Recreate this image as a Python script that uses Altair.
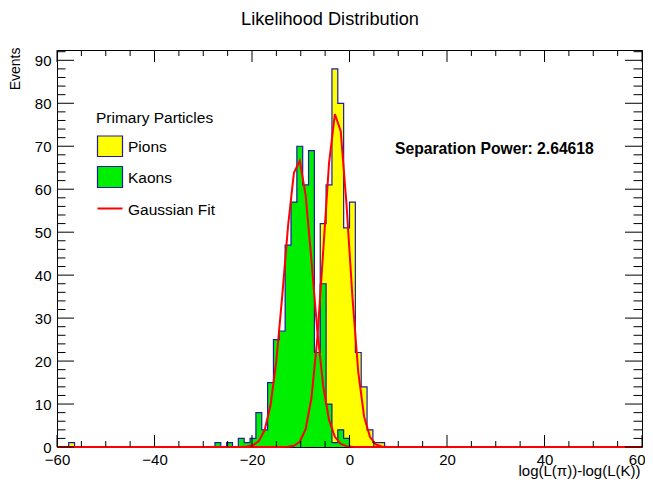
import altair as alt
import pandas as pd

# ---------------- data ----------------
X_MIN, X_MAX, N_BINS = -60.0, 60.0, 100
Y_MAX = 92.4

# histogram bins (bin index from the left edge at -60, width 1.2) and counts
pion_bins = [2, 42, 43, 44, 45, 46, 47, 48, 49, 50, 51, 52, 53, 54, 55]
pion_counts = [1, 2, 6, 16, 52, 61, 88, 80, 51, 57, 22, 14, 4, 1, 1]

kaon_bins = [27, 29, 31, 32, 33, 34, 35, 36, 37, 38, 39, 40, 41, 42, 43, 44, 45, 46, 47, 48, 49]
kaon_counts = [1, 1, 2, 1, 2, 8, 4, 15, 25, 27, 47, 57, 70, 61, 69, 22, 38, 10, 1, 4, 2]

# Gaussian fit curves (values read at the drawn polyline points)
pion_fit_x = [-60, -13.8, -12.6, -11.4, -10.2, -9.0, -7.8, -6.6, -5.4, -4.2, -3.0, -1.8,
              -0.6, 0.6, 1.8, 3.0, 4.2, 5.4, 6.6, 7.8, 9.0, 60]
pion_fit_y = [0, 0.0, 0.06, 0.29, 1.22, 4.14, 11.4, 25.3, 45.5, 66.0, 77.5, 73.5,
              56.3, 34.9, 17.4, 7.05, 2.31, 0.61, 0.13, 0.02, 0.0, 0]

kaon_fit_x = [-60, -23.4, -22.2, -21.0, -19.8, -18.6, -17.4, -16.2, -15.0, -13.8, -12.6, -11.4,
              -10.2, -9.0, -7.8, -6.6, -5.4, -4.2, -3.0, -1.8, -0.6, 0.6, 1.8, 60]
kaon_fit_y = [0, 0.0, 0.02, 0.1, 0.39, 1.36, 3.95, 9.7, 20.1, 35.1, 51.5, 63.8,
              66.6, 58.6, 43.4, 27.1, 14.3, 6.3, 2.36, 0.74, 0.2, 0.04, 0.0, 0]

x_tick_labels = [-60, -40, -20, 0, 20, 40, 60]
y_tick_labels = [0, 10, 20, 30, 40, 50, 60, 70, 80, 90]
x_minor_ticks = [-55, -50, -45, -35, -30, -25, -15, -10, -5, 5, 10, 15, 25, 30, 35, 45, 50, 55]
y_minor_ticks = [2, 4, 6, 8, 12, 14, 16, 18, 22, 24, 26, 28, 32, 34, 36, 38, 42, 44, 46, 48,
                 52, 54, 56, 58, 62, 64, 66, 68, 72, 74, 76, 78, 82, 84, 86, 88, 92]

separation_power = "2.64618"

# ---------------- styling ----------------
W, H = 585, 397
FONT = "Liberation Sans"
YELLOW = "#ffff00"
GREEN = "#00ee00"
OUTLINE = "#1c1ca8"
RED = "#ff0000"


def hist_frame(bins, counts):
    bw = (X_MAX - X_MIN) / N_BINS
    full = [0] * N_BINS
    for b, c in zip(bins, counts):
        full[b] = c
    edges = [X_MIN + i * bw for i in range(N_BINS)] + [X_MAX]
    return pd.DataFrame({"x": edges, "n": full + [0]})


xs = alt.Scale(domain=[X_MIN, X_MAX], nice=False, zero=False)
ys = alt.Scale(domain=[0, Y_MAX], nice=False, zero=False)

x_axis = alt.Axis(values=x_tick_labels, format="d", ticks=False, domain=False, grid=False,
                  labelFont=FONT, labelFontSize=15, labelColor="black", labelPadding=5,
                  labelFlush=False, labelOverlap=False,
                  labelAlign={"expr": "datum.value == 60 ? 'right' : 'center'"},
                  labelOffset={"expr": "datum.value == 60 ? 3 : 0"},
                  title="log(L(π))-log(L(K))", titleFont=FONT, titleFontSize=15,
                  titleFontWeight="normal", titleColor="black", titleX=W - 2, titleY=28,
                  titleAlign="right", titleBaseline="alphabetic")
y_axis = alt.Axis(values=y_tick_labels, format="d", ticks=False, domain=False, grid=False,
                  labelFont=FONT, labelFontSize=15, labelColor="black", labelPadding=6,
                  labelFlush=False, labelOverlap=False,
                  title="Events", titleFont=FONT, titleFontSize=14, titleFontWeight="normal",
                  titleColor="black", titleAngle=270, titleX=-42, titleY=-3,
                  titleAlign="right", titleBaseline="middle")


def X(field):
    return alt.X(field, scale=xs, axis=x_axis)


def Y(field):
    return alt.Y(field, scale=ys, axis=y_axis)


pion_df = hist_frame(pion_bins, pion_counts)
kaon_df = hist_frame(kaon_bins, kaon_counts)


def hist_layers(df, fill):
    area = alt.Chart(df).mark_area(interpolate="step-after", color=fill, opacity=1).encode(
        x=X("x:Q"), y=Y("n:Q"))
    line = alt.Chart(df).mark_line(interpolate="step-after", color=OUTLINE, strokeWidth=1.2).encode(
        x=X("x:Q"), y=Y("n:Q"))
    return [area, line]


fit_df = pd.concat([
    pd.DataFrame({"x": pion_fit_x, "n": pion_fit_y, "s": "pion"}),
    pd.DataFrame({"x": kaon_fit_x, "n": kaon_fit_y, "s": "kaon"}),
])
fits = alt.Chart(fit_df).mark_line(color=RED, strokeWidth=2).encode(
    x=X("x:Q"), y=Y("n:Q"), detail="s:N")


# inward ticks on all four sides
def xticks(vals, length):
    d = pd.DataFrame({"x": vals})
    bottom = alt.Chart(d).mark_rule(color="black", strokeWidth=1).encode(
        x=X("x:Q"), y=alt.value(H), y2=alt.value(H - length))
    top = alt.Chart(d).mark_rule(color="black", strokeWidth=1).encode(
        x=X("x:Q"), y=alt.value(0), y2=alt.value(length))
    return [bottom, top]


def yticks(vals, length):
    d = pd.DataFrame({"n": vals})
    left = alt.Chart(d).mark_rule(color="black", strokeWidth=1).encode(
        y=Y("n:Q"), x=alt.value(0), x2=alt.value(length))
    right = alt.Chart(d).mark_rule(color="black", strokeWidth=1).encode(
        y=Y("n:Q"), x=alt.value(W), x2=alt.value(W - length))
    return [left, right]


ticks = xticks(x_tick_labels, 12) + xticks(x_minor_ticks, 6) + yticks(y_tick_labels, 17) + yticks(y_minor_ticks, 8.5)


def text(t, x, y, size=15.5, weight="normal", align="left"):
    return alt.Chart(pd.DataFrame({"t": [t]})).mark_text(
        font=FONT, fontSize=size, fontWeight=weight, align=align, baseline="alphabetic", color="black"
    ).encode(x=alt.value(x), y=alt.value(y), text="t:N")


def swatch(fill, y0, y1):
    return alt.Chart(pd.DataFrame({"a": [0]})).mark_rect(fill=fill, stroke=OUTLINE, strokeWidth=1.2).encode(
        x=alt.value(40.5), x2=alt.value(65.5), y=alt.value(y0), y2=alt.value(y1))


legend = [
    text("Primary Particles", 39, 72.5),
    swatch(YELLOW, 86, 106.5),
    text("Pions", 71, 102),
    swatch(GREEN, 116.5, 137.5),
    text("Kaons", 71, 133),
    alt.Chart(pd.DataFrame({"a": [0]})).mark_rule(color=RED, strokeWidth=2).encode(
        x=alt.value(40.5), x2=alt.value(65.5), y=alt.value(158.5)),
    text("Gaussian Fit", 71, 164.5),
]

annot = [
    text("Likelihood Distribution", 273, -25, size=18.2, align="center"),
    text("Separation Power: " + separation_power, 338, 104, size=15.7, weight="bold"),
]

layers = hist_layers(pion_df, YELLOW) + hist_layers(kaon_df, GREEN) + [fits] + ticks + legend + annot

chart = alt.layer(*layers).properties(
    width=W, height=H,
    autosize=alt.AutoSizeParams(type="none"),
    padding={"left": 49, "top": 42, "right": 3, "bottom": 36},
    background="white",
).configure_view(stroke="black", strokeWidth=1)

chart.save("out.html", embed_options={"renderer": "svg", "actions": False})
